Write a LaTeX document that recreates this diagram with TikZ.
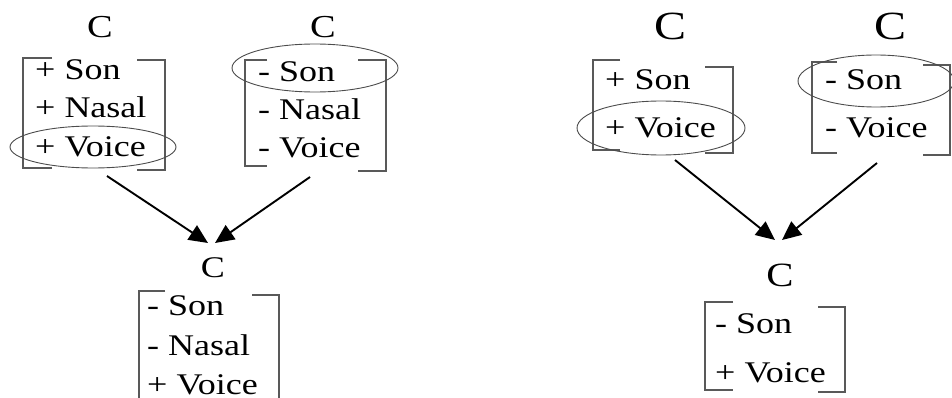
\documentclass[tikz,border=0pt]{standalone}
\usepackage{fontspec}
\setmainfont{Liberation Serif}
\usetikzlibrary{arrows.meta}
% features are set a little wider than the font's natural width
\newcommand{\widen}[1]{\scalebox{1.2}[1]{#1}}
\tikzset{
  feat/.style={anchor=base west, inner sep=0pt, font=\fontsize{30}{36}\selectfont},
  seg/.style={inner sep=0pt, font=\fontsize{#1}{#1}\selectfont},
  brk/.style={draw=black!65, line width=1.4pt},
  ring/.style={draw=black!70, line width=0.9pt},
  arr/.style={draw=black, line width=1.9pt, -{Triangle[length=19pt,width=17pt]}}
}
\begin{document}
\begin{tikzpicture}[x=1pt,y=-1pt]
\useasboundingbox (0,0) rectangle (952,398);
\clip (0,0) rectangle (952,398);

% ---------- left: nasal assimilation ----------
\node[seg=32] (ca) at (100,27) {\widen{C}};
\node[feat] (ca1) at (35,80) {\widen{+ Son}};
\node[feat] (ca2) at (35,118) {\widen{+ Nasal}};
\node[feat] (ca3) at (35,157) {\widen{+ Voice}};
\draw[brk] (52,58) -- (23,58) -- (23,168) -- (52,168);
\draw[brk] (137,60) -- (165,60) -- (165,170) -- (137,170);
\draw[ring] (93,147) ellipse [x radius=83, y radius=21];

\node[seg=32] (cb) at (323,27) {\widen{C}};
\node[feat] (cb1) at (258,82) {\widen{- Son}};
\node[feat] (cb2) at (258,120) {\widen{- Nasal}};
\node[feat] (cb3) at (258,158) {\widen{- Voice}};
\draw[brk] (267,60) -- (245,60) -- (245,166) -- (267,166);
\draw[brk] (358,60) -- (386,60) -- (386,171) -- (358,171);
\draw[ring] (315,68) ellipse [x radius=83, y radius=24];

\node[seg=30] (cc) at (213,268) {\widen{C}};
\node[feat] (cc1) at (147,315) {\widen{- Son}};
\node[feat] (cc2) at (147,355) {\widen{- Nasal}};
\node[feat] (cc3) at (147,394) {\widen{+ Voice}};
\draw[brk] (165,291) -- (139,291) -- (139,420);
\draw[brk] (252,295) -- (279,295) -- (279,420);

\coordinate (sa) at (107,176);
\coordinate (sb) at (310,177);
\coordinate (ta) at (208,243);
\coordinate (tb) at (215,243);
\draw[arr] (sa) -- (ta);
\draw[arr] (sb) -- (tb);

% ---------- right: voicing ----------
\node[seg=40] (cd) at (670,26) {\widen{C}};
\node[feat] (cd1) at (605,90) {\widen{+ Son}};
\node[feat] (cd2) at (605,138) {\widen{+ Voice}};
\draw[brk] (620,60) -- (593,60) -- (593,150) -- (620,150);
\draw[brk] (705,67) -- (733,67) -- (733,153) -- (705,153);
\draw[ring] (661,128) ellipse [x radius=84, y radius=27];

\node[seg=40] (ce) at (890,26) {\widen{C}};
\node[feat] (ce1) at (825,90) {\widen{- Son}};
\node[feat] (ce2) at (825,138) {\widen{- Voice}};
\draw[brk] (837,62) -- (812,62) -- (812,153) -- (837,153);
\draw[brk] (923,65) -- (950,65) -- (950,155) -- (923,155);
\draw[ring] (876,81) ellipse [x radius=78, y radius=26];

\node[seg=34] (cf) at (780,275) {\widen{C}};
\node[feat] (cf1) at (715,333) {\widen{- Son}};
\node[feat] (cf2) at (715,382) {\widen{+ Voice}};
\draw[brk] (733,302) -- (705,302) -- (705,390) -- (733,390);
\draw[brk] (818,307) -- (845,307) -- (845,392) -- (818,392);

\coordinate (sd) at (675,160);
\coordinate (se) at (877,163);
\coordinate (td) at (775,240);
\coordinate (te) at (782,240);
\draw[arr] (sd) -- (td);
\draw[arr] (se) -- (te);
\end{tikzpicture}
\end{document}
